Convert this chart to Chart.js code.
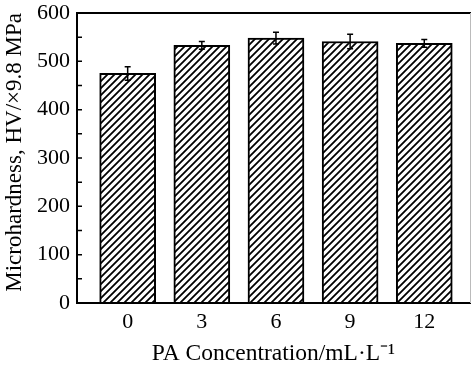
<!DOCTYPE html>
<html>
<head>
<meta charset="utf-8">
<script src="https://cdn.jsdelivr.net/npm/chart.js@4/dist/chart.umd.min.js"></script>
<style>
  html, body { margin: 0; padding: 0; background: #fff; }
  #wrap { width: 471px; height: 368px; }
</style>
</head>
<body>
<div id="wrap"><canvas id="c" width="471" height="368"></canvas></div>
<script>
// ---- data ----
const concentrations = [0, 3, 6, 9, 12];
const microhardness = [475, 533, 548, 541, 537];
const errors = [14, 8, 12, 15, 8];
const yTicks = [0, 100, 200, 300, 400, 500, 600];
const xTitle = 'PA Concentration/mL\u00B7L\u207B\u00B9';
const yTitle = 'Microhardness, HV/\u00D79.8 MPa';

const FONT = '"Liberation Serif", "Times New Roman", serif';

// hatch pattern
function makeHatch() {
  const s = 7;
  const c = document.createElement('canvas');
  c.width = s; c.height = s;
  const g = c.getContext('2d');
  g.fillStyle = '#fff';
  g.fillRect(0, 0, s, s);
  g.strokeStyle = '#000';
  g.lineWidth = 1.8;
  g.beginPath();
  g.moveTo(-1, s + 1); g.lineTo(s + 1, -1);
  g.moveTo(-1, 1); g.lineTo(1, -1);
  g.moveTo(s - 1, s + 1); g.lineTo(s + 1, s - 1);
  g.stroke();
  return g.createPattern(c, 'repeat');
}
const ctx = document.getElementById('c').getContext('2d');
const hatch = makeHatch();

const framePlugin = {
  id: 'frame',
  afterDraw(chart) {
    const a = chart.chartArea;
    const y = chart.scales.y;
    const c = chart.ctx;
    c.save();
    c.strokeStyle = '#000';
    c.lineWidth = 2;
    c.beginPath();
    c.moveTo(chart.width, a.top); c.lineTo(a.left, a.top);
    c.lineTo(a.left, a.bottom); c.lineTo(chart.width, a.bottom);
    c.stroke();
    // right frame edge (cropped at the image border)
    c.strokeStyle = '#bbb';
    c.lineWidth = 1;
    c.beginPath();
    c.moveTo(a.right + 0.5, a.top); c.lineTo(a.right + 0.5, a.bottom);
    c.stroke();
    // inside ticks, major and minor
    c.strokeStyle = '#000';
    c.lineWidth = 1.5;
    c.beginPath();
    for (let i = 0; i < yTicks.length; i++) {
      const py = y.getPixelForValue(yTicks[i]);
      c.moveTo(a.left, py); c.lineTo(a.left + 5, py);
      if (i < yTicks.length - 1) {
        const pm = y.getPixelForValue((yTicks[i] + yTicks[i + 1]) / 2);
        c.moveTo(a.left, pm); c.lineTo(a.left + 5, pm);
      }
    }
    c.stroke();
    c.restore();
  }
};

const errorPlugin = {
  id: 'errbars',
  afterDatasetsDraw(chart) {
    const x = chart.scales.x, y = chart.scales.y;
    const c = chart.ctx;
    c.save();
    c.strokeStyle = '#000';
    c.lineWidth = 1.5;
    c.beginPath();
    for (let i = 0; i < concentrations.length; i++) {
      const px = x.getPixelForValue(concentrations[i]);
      const t = y.getPixelForValue(microhardness[i] + errors[i]);
      const b = y.getPixelForValue(microhardness[i] - errors[i]);
      c.moveTo(px, t); c.lineTo(px, b);
      c.moveTo(px - 3, t); c.lineTo(px + 3, t);
      c.moveTo(px - 3, b); c.lineTo(px + 3, b);
    }
    c.stroke();
    c.restore();
  }
};

new Chart(ctx, {
  type: 'bar',
  data: {
    datasets: [{
      data: concentrations.map((v, i) => ({ x: v, y: microhardness[i] })),
      backgroundColor: hatch,
      borderColor: '#000',
      borderWidth: 2,
      barThickness: 56
    }]
  },
  options: {
    responsive: false,
    animation: false,
    events: [],
    layout: { padding: { top: 13, right: 1, left: 0, bottom: 0 } },
    plugins: { legend: { display: false }, tooltip: { enabled: false } },
    scales: {
      x: {
        type: 'linear',
        min: -2.05,
        max: 13.85,
        offset: false,
        grid: { display: false, drawTicks: false },
        border: { display: false },
        afterBuildTicks(scale) { scale.ticks = concentrations.map(v => ({ value: v })); },
        afterFit(scale) { scale.height = 65; scale.paddingLeft = 0; scale.paddingRight = 0; },
        ticks: {
          color: '#000',
          font: { family: FONT, size: 22 },
          padding: 6,
          maxRotation: 0,
          autoSkip: false,
          callback: v => String(v)
        },
        title: {
          display: true,
          text: xTitle,
          color: '#000',
          font: { family: FONT, size: 23.5 },
          padding: { top: 0, bottom: 0 }
        }
      },
      y: {
        min: 0,
        max: 600,
        grid: { display: false, drawTicks: false },
        border: { display: false },
        afterBuildTicks(scale) { scale.ticks = yTicks.map(v => ({ value: v })); },
        afterFit(scale) { scale.width = 77; scale.paddingTop = 0; scale.paddingBottom = 0; },
        ticks: {
          color: '#000',
          font: { family: FONT, size: 22 },
          padding: 7
        },
        title: {
          display: true,
          text: yTitle,
          align: 'end',
          color: '#000',
          font: { family: FONT, size: 23 },
          padding: { top: 1, bottom: 0 }
        }
      }
    }
  },
  plugins: [framePlugin, errorPlugin]
});
</script>
</body>
</html>
